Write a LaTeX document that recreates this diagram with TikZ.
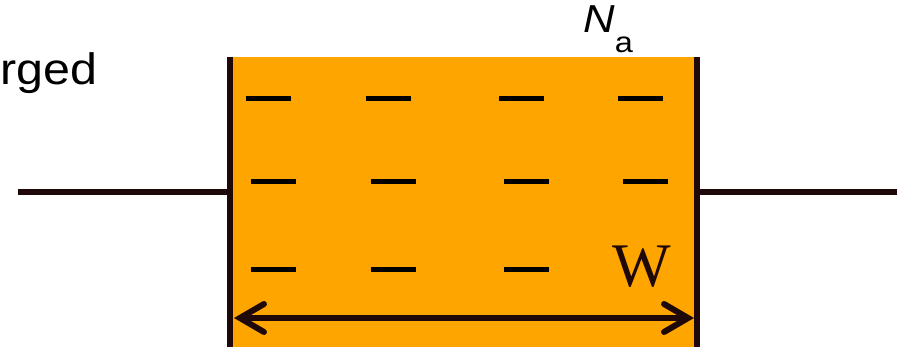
\documentclass[tikz,border=0pt]{standalone}
\usepackage{fontspec}
\setmainfont{Liberation Sans}
\newfontfamily\serifface{Liberation Serif}
\usetikzlibrary{arrows.meta}
\definecolor{plate}{HTML}{FFA500}
\definecolor{wire}{HTML}{1E0808}
\tikzset{
  wireline/.style={draw=wire, line width=6pt},
  charge/.style={draw=black, line width=5pt},
  barb/.tip={Straight Barb[length=24pt,width=28pt,line cap=round]},
  widtharrow/.style={draw=wire, line width=6pt, {barb}-{barb}},
}
\begin{document}
\begin{tikzpicture}[x=1pt,y=-1pt]
  \useasboundingbox (0,0) rectangle (897,347);
  % depletion region
  \fill[plate] (231,57) rectangle (697,350);
  % plate edges
  \coordinate (lt) at (230,57);
  \coordinate (lb) at (230,350);
  \coordinate (rt) at (697,57);
  \coordinate (rb) at (697,350);
  \draw[wireline] (lt) -- (lb);
  \draw[wireline] (rt) -- (rb);
  % leads
  \coordinate (wl) at (18,192);
  \coordinate (wlc) at (230,192);
  \coordinate (wrc) at (697,192);
  \coordinate (wr) at (897,192);
  \draw[wireline] (wl) -- (wlc);
  \draw[wireline] (wrc) -- (wr);
  % fixed negative charges
  \foreach \x in {246,366,499,618} \draw[charge] (\x,99) -- ++(45,0);
  \foreach \x in {251,371,504,623} \draw[charge] (\x,182) -- ++(45,0);
  \foreach \x in {251,371,504} \draw[charge] (\x,270) -- ++(45,0);
  % width
  \coordinate (wa) at (234,318);
  \coordinate (wb) at (694,318);
  \draw[widtharrow] (wa) -- (wb);
  \node[anchor=base, font=\serifface\fontsize{62}{62}\selectfont, text=wire, inner sep=0pt] (wlabel) at (642,287) {W};
  \node[anchor=base west, font=\fontsize{44}{44}\selectfont, inner sep=0pt, xscale=1.1] (clabel) at (0,85) {rged};
  \node[anchor=base west, font=\fontsize{39}{39}\selectfont, inner sep=0pt, xscale=1.12] (nlabel) at (583,33)
    {\textit{N}\raisebox{-20pt}{\fontsize{29}{29}\selectfont a}};
\end{tikzpicture}
\end{document}
